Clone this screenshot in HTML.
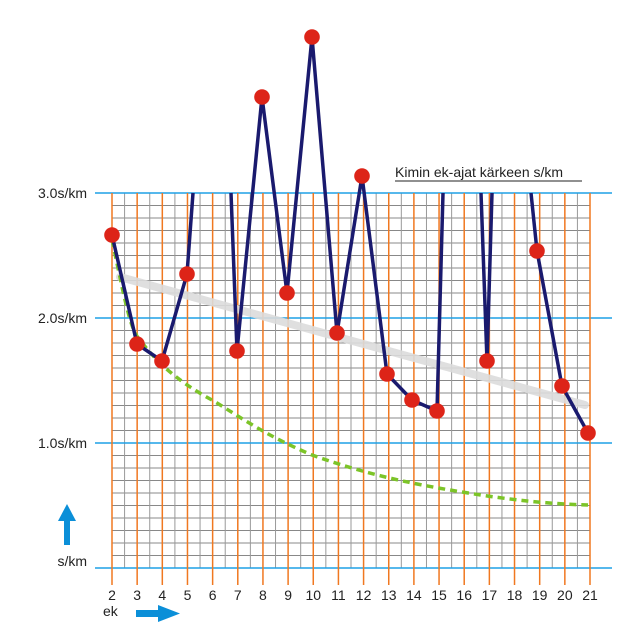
<!DOCTYPE html>
<html><head><meta charset="utf-8"><style>
body{margin:0;background:#fff}
svg{display:block}
text{font-family:"Liberation Sans",sans-serif;fill:#222}
</style></head><body>
<svg id="s" width="630" height="640" xmlns="http://www.w3.org/2000/svg">
<g id="grid"></g>
<g id="data"></g>
</svg>
<script>
const s=document.getElementById('grid');let h='';
const x0=112,dx=25.158,yTop=193,yBot=568;
for(let i=0;i<=30;i++){const y=yTop+i*12.5;if(i%10)h+=`<line x1="${x0}" y1="${y}" x2="590" y2="${y}" stroke="#888" stroke-width="1"/>`;}
for(let i=0;i<19;i++){const x=x0+dx*i+dx/2;h+=`<line x1="${x}" y1="${yTop}" x2="${x}" y2="${yBot}" stroke="#999" stroke-width="1"/>`;}
[[193,'3.0s/km'],[318,'2.0s/km'],[443,'1.0s/km'],[568,'s/km']].forEach(([y,t])=>{h+=`<line x1="95" y1="${y}" x2="612" y2="${y}" stroke="#1ea0e6" stroke-width="1.5"/><text x="87" y="${y+(t=='s/km'?-2:5)}" font-size="14" text-anchor="end">${t}</text>`;});
for(let i=0;i<20;i++){const x=x0+dx*i;h+=`<line x1="${x}" y1="${yTop}" x2="${x}" y2="585" stroke="#f07820" stroke-width="1.5"/><text x="${x}" y="600" font-size="14" text-anchor="middle">${i+2}</text>`;}
h+=`<text x="103" y="616" font-size="14">ek</text>`;
h+=`<text x="395" y="177" font-size="14">Kimin ek-ajat kärkeen s/km</text><line x1="395" y1="181" x2="582" y2="181" stroke="#222" stroke-width="1"/>`;
h+=`<rect x="64" y="519" width="6" height="26" fill="#0b8fd8"/><polygon points="58,521 67,504 76,521" fill="#0b8fd8"/>`;
h+=`<rect x="136" y="610" width="25" height="7" fill="#0b8fd8"/><polygon points="158,605 180,613.5 158,622" fill="#0b8fd8"/>`;
s.innerHTML=h;
let d='';
d+=`<line x1="120" y1="277" x2="585" y2="405" stroke="#dcdcdc" stroke-width="8" stroke-linecap="round" opacity="0.9"/>`;
d+=`<path d="M112,240 C125,300 130,330 140,340 C155,360 175,380 212,400 C245,420 265,435 312,455 C360,472 400,482 462,492 C510,500 550,504 588,505" fill="none" stroke="#7cc428" stroke-width="3.5" stroke-dasharray="7,5"/>`;
const L='stroke="#1a1a6e" stroke-width="3.5" fill="none" stroke-linejoin="round"';
d+=`<polyline points="112,235 137,344 162,361 187,274 193,193" ${L}/>`;
d+=`<polyline points="231,193 237,351 262,97 287,293 312,37 337,333 362,176 387,374 412,400 437,411 443,193" ${L}/>`;
d+=`<polyline points="481,193 487,361 492,193" ${L}/>`;
d+=`<polyline points="531,193 537,251 562,386 588,433" ${L}/>`;
[[112,235],[137,344],[162,361],[187,274],[237,351],[262,97],[287,293],[312,37],[337,333],[362,176],[387,374],[412,400],[437,411],[487,361],[537,251],[562,386],[588,433]].forEach(([x,y])=>{d+=`<circle cx="${x}" cy="${y}" r="7.8" fill="#dd2418"/>`;});
document.getElementById('data').innerHTML=d;
</script>
</body></html>
